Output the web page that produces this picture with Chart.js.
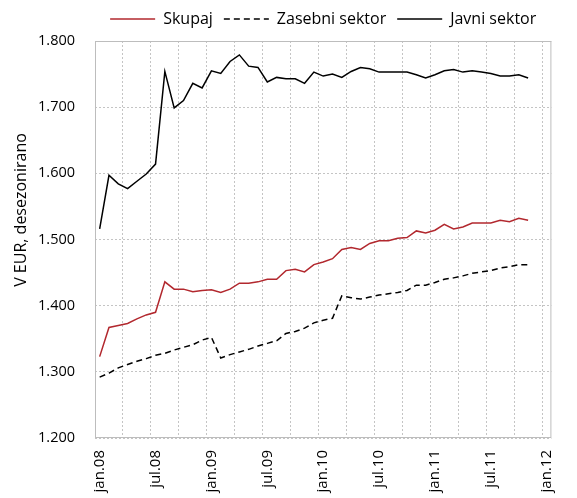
<!DOCTYPE html>
<html>
<head>
<meta charset="utf-8">
<script src="https://cdn.jsdelivr.net/npm/chart.js@4.4.1/dist/chart.umd.min.js"></script>
<style>
  html, body { margin: 0; padding: 0; background: #fff; }
  #okno { width: 577px; height: 498px; }
</style>
</head>
<body>
<div id="okno"><canvas id="graf" width="577" height="498"></canvas></div>
<script>
// Meseci od jan.08 do jan.12
const meseci = [
  'jan.08','feb.08','mar.08','apr.08','maj.08','jun.08','jul.08','avg.08','sep.08','okt.08','nov.08','dec.08',
  'jan.09','feb.09','mar.09','apr.09','maj.09','jun.09','jul.09','avg.09','sep.09','okt.09','nov.09','dec.09',
  'jan.10','feb.10','mar.10','apr.10','maj.10','jun.10','jul.10','avg.10','sep.10','okt.10','nov.10','dec.10',
  'jan.11','feb.11','mar.11','apr.11','maj.11','jun.11','jul.11','avg.11','sep.11','okt.11','nov.11','dec.11',
  'jan.12'
];

// Plače v EUR, desezonirano
const skupaj = [1323, 1367, 1370, 1373, 1380, 1386, 1390, 1436, 1425, 1425, 1421, 1423,
  1424, 1420, 1425, 1434, 1434, 1436, 1440, 1440, 1453, 1455, 1451, 1462,
  1466, 1471, 1485, 1488, 1485, 1494, 1498, 1498, 1502, 1503, 1513, 1510,
  1514, 1523, 1516, 1519, 1525, 1525, 1525, 1529, 1527, 1532, 1529];
const zasebni = [1292, 1298, 1306, 1311, 1316, 1320, 1325, 1328, 1333, 1337, 1341, 1348,
  1352, 1321, 1326, 1330, 1334, 1339, 1343, 1347, 1358, 1361, 1366, 1374,
  1378, 1381, 1415, 1412, 1410, 1413, 1416, 1418, 1420, 1423, 1431, 1431,
  1435, 1440, 1442, 1445, 1449, 1451, 1453, 1457, 1459, 1462, 1462];
const javni = [1516, 1597, 1584, 1577, 1588, 1599, 1614, 1754, 1699, 1710, 1736, 1729,
  1755, 1751, 1769, 1779, 1762, 1760, 1738, 1745, 1743, 1743, 1736, 1753,
  1747, 1750, 1745, 1754, 1760, 1758, 1753, 1753, 1753, 1753, 1749, 1744,
  1749, 1755, 1757, 1753, 1755, 1753, 1751, 1747, 1747, 1749, 1744];

const graf = document.querySelector('#graf');
const pisava = "'Open Sans', sans-serif";
const siva = '#c4c4c4';

// okvir, višina legende in naslov osi y
const dodatki = {
  id: 'dodatki',
  beforeInit(chart) {
    const fit = chart.legend.fit;
    chart.legend.fit = function () { fit.call(this); this.height = 41; };
  },
  beforeDatasetsDraw(chart) {
    const { ctx, chartArea: a } = chart;
    ctx.save();
    ctx.strokeStyle = '#bdbdbd';
    ctx.lineWidth = 1;
    ctx.strokeRect(a.left + 0.5, a.top + 0.5, a.right - a.left - 1, a.bottom - a.top - 1);
    ctx.restore();
  },
  afterDraw(chart) {
    const ctx = chart.ctx;
    ctx.save();
    ctx.translate(21, 210);
    ctx.rotate(-Math.PI / 2);
    ctx.font = "16px " + pisava;
    ctx.fillStyle = '#000';
    ctx.textAlign = 'center';
    ctx.textBaseline = 'middle';
    ctx.fillText('V EUR, desezonirano', 0, 0);
    ctx.restore();
  }
};

new Chart(graf, {
  type: 'line',
  data: {
    labels: meseci,
    datasets: [
      { label: 'Skupaj', data: skupaj, borderColor: '#b2282e', borderWidth: 1.5 },
      { label: 'Zasebni sektor', data: zasebni, borderColor: '#000', borderWidth: 1.5, borderDash: [6, 4] },
      { label: 'Javni sektor', data: javni, borderColor: '#000', borderWidth: 1.5 }
    ]
  },
  options: {
    responsive: false,
    animation: false,
    layout: { padding: { left: 0, right: 14, top: 0, bottom: 0 } },
    elements: { point: { radius: 0 }, line: { tension: 0, fill: false } },
    plugins: {
      tooltip: { enabled: false },
      legend: {
        position: 'top',
        fullSize: false,
        labels: {
          usePointStyle: true,
          pointStyle: 'line',
          pointStyleWidth: 45,
          padding: 11,
          color: '#000',
          font: { family: pisava, size: 16 },
          generateLabels(chart) {
            const osnova = Chart.defaults.plugins.legend.labels.generateLabels(chart);
            return osnova.map((l, i) => ({
              ...l,
              lineDash: chart.data.datasets[i].borderDash || [],
              lineWidth: 1.5
            }));
          }
        }
      }
    },
    scales: {
      x: {
        offset: true,
        afterFit(s) { s.height = 60; },
        grid: {
          offset: true,
          drawTicks: false,
          color: c => (c.index > 0 && c.index % 3 === 0) ? siva : 'transparent'
        },
        border: { display: false, dash: [2, 2] },
        ticks: {
          autoSkip: false,
          minRotation: 90,
          maxRotation: 90,
          padding: 12,
          color: '#000',
          font: { family: pisava, size: 15 },
          callback(v, i) { return i % 6 === 0 ? this.getLabelForValue(v) : ''; }
        }
      },
      y: {
        min: 1200,
        max: 1800,
        afterFit(s) { s.width = 95; },
        grid: { drawTicks: false, color: siva },
        border: { display: false, dash: [2, 2] },
        ticks: {
          stepSize: 100,
          padding: 20,
          color: '#000',
          font: { family: pisava, size: 14.5 },
          callback: v => String(v).replace(/\B(?=(\d{3})+(?!\d))/g, '.')
        }
      }
    }
  },
  plugins: [dodatki]
});
</script>
</body>
</html>
